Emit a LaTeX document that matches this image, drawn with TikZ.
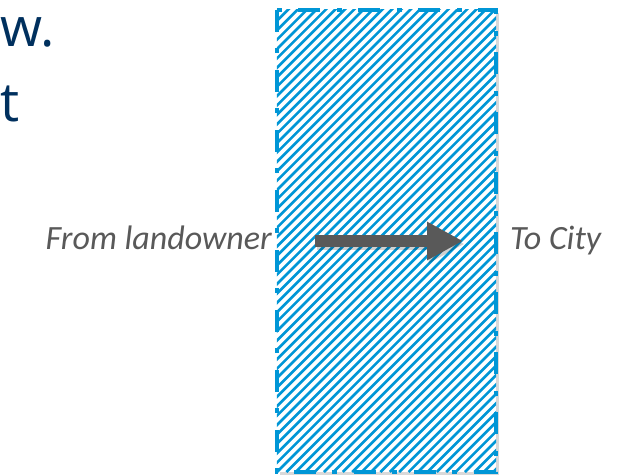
\documentclass[tikz,border=0pt]{standalone}
\usepackage{fontspec}
\setmainfont{Carlito}
\newfontfamily\headfont{Open Sans}
\usepackage{tikz}
\usetikzlibrary{positioning,arrows.meta,shadows}
\definecolor{navy}{RGB}{0,48,94}
\definecolor{hatchblue}{RGB}{0,150,214}
\definecolor{arrowgray}{RGB}{89,89,89}

\begin{document}
\begin{tikzpicture}[x=1pt,y=-1pt,
  headline/.style={font=\headfont\fontsize{54}{64}\selectfont, text=navy, inner sep=0pt, anchor=base west},
  sidelabel/.style={font=\fontsize{34}{40}\selectfont\itshape, text=arrowgray, inner sep=0pt},
  stripborder/.style={draw=hatchblue, line width=4pt, dash pattern=on 22pt off 16pt on 5pt off 17pt},
  dedication/.style={-{Triangle[length=36pt,width=36pt]}, line width=12pt}]
\useasboundingbox (0,0) rectangle (629,475);
% heading text at the left edge
\node[headline] (w) at (0,46) {w.};
\node[headline] (t) at (0,121) {t};
% strip of land
\node[fill=white, minimum width=219pt, minimum height=462pt, inner sep=0pt, drop shadow={shadow xshift=3pt, shadow yshift=-3pt, opacity=0.3}] (strip) at (386.5,241) {};
\begin{scope}
\clip (strip.north west) rectangle (strip.south east);
\foreach \i in {0,...,74}
  \draw[hatchblue, line width=2.6pt] ({277-470+\i*9.4},472) -- ++(470,-470);
\end{scope}
\draw[stripborder] (strip.north west) rectangle (strip.south east);
% dedication arrow
\coordinate (from) at (315,241);
\coordinate (to) at (463,241);
\draw[dedication, black, opacity=0.18, transform canvas={shift={(1.5pt,-3pt)}}] (from) -- (to);
\draw[dedication, arrowgray] (from) -- (to);
\node[sidelabel, anchor=base east] (src) at (272,249) {From landowner};
\node[sidelabel, anchor=base west] (dst) at (510,249) {To City};
\end{tikzpicture}
\end{document}
